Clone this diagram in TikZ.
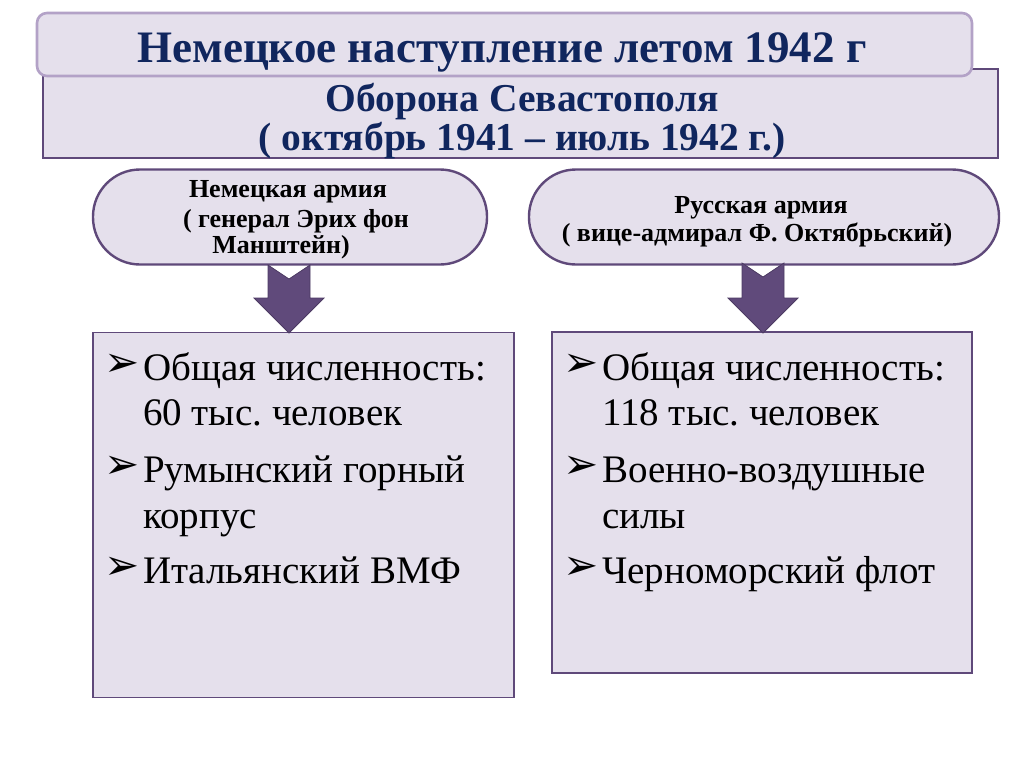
\documentclass[tikz,border=0pt]{standalone}
\usepackage{fontspec}
\setmainfont{Liberation Serif}
\newfontfamily\symfont{DejaVu Sans}
\frenchspacing
\definecolor{lav}{HTML}{E5E0EC}
\definecolor{dpurple}{HTML}{5F497A}
\definecolor{lpurple}{HTML}{B3A2C7}
\definecolor{navy}{HTML}{10265E}
\definecolor{arrowfill}{HTML}{604A7B}
\tikzset{
  backbox/.style={draw=dpurple, line width=2.6pt, fill=lav, inner sep=0pt},
  topbox/.style={draw=lpurple, line width=2.6pt, fill=lav, rounded corners=10pt, inner sep=0pt},
  army/.style={draw=dpurple, line width=2.4pt, fill=lav, rounded corners=47pt, inner sep=0pt},
  listbox/.style={draw=dpurple, line width=1.8pt, fill=lav, inner sep=0pt},
  blockarrow/.style={fill=arrowfill, draw=dpurple!80!black, line width=0.8pt, line join=miter},
  titletext/.style={font=\rmfamily\fontsize{45}{50}\selectfont\bfseries, text=navy, anchor=base, inner sep=0pt},
  subtext/.style={font=\rmfamily\fontsize{39.5}{44}\selectfont\bfseries, text=navy, anchor=base, inner sep=0pt},
  armytext/.style={font=\rmfamily\fontsize{26}{30}\selectfont\bfseries, anchor=base, inner sep=0pt},
  itemtext/.style={font=\rmfamily\fontsize{39}{44}\selectfont, anchor=base west, inner sep=0pt},
  bullet/.style={font=\symfont\fontsize{42}{46}\selectfont, anchor=base west, inner sep=0pt}
}
\begin{document}
\begin{tikzpicture}[x=1pt,y=-1pt]
\useasboundingbox (0,0) rectangle (1024,768);
% header boxes
\node[backbox, minimum width=955pt, minimum height=89pt] (back) at (520.5,113.5) {};
\node[topbox, minimum width=935pt, minimum height=63pt] (top) at (504.5,44.5) {};
\node[titletext] (title) at (502,63) {Немецкое наступление летом 1942 г};
\node[subtext] (sub1) at (522,111) {Оборона Севастополя};
\node[subtext] (sub2) at (522,150) {( октябрь 1941 – июль 1942 г.)};
% army ovals
\node[army, minimum width=394pt, minimum height=95pt] (ger) at (290,217) {};
\node[army, minimum width=470pt, minimum height=95pt] (rus) at (764,217) {};
\node[armytext] (g1) at (288,197) {Немецкая армия};
\node[armytext] (g2) at (296,227) {( генерал Эрих фон};
\node[armytext] (g3) at (281,253) {Манштейн)};
\node[armytext] (r1) at (761,213) {Русская армия};
\node[armytext] (r2) at (757,241) {( вице-адмирал Ф. Октябрьский)};
% list boxes
\node[listbox, minimum width=421pt, minimum height=365pt] (lbox) at (303.5,515) {};
\node[listbox, minimum width=420pt, minimum height=341pt] (rbox) at (762,502.5) {};
% arrows
\path[blockarrow] (268,265) -- (289,279) -- (310,265) -- (310,298) -- (324,298) -- (289,333) -- (254,298) -- (268,298) -- cycle;
\path[blockarrow] (742,263) -- (763,277) -- (784,263) -- (784,298) -- (798,298) -- (763,333) -- (728,298) -- (742,298) -- cycle;
% left list
\node[bullet] (lb1) at (104,376) {➢};
\node[itemtext] (l1) at (143,380) {Общая численность:};
\node[itemtext] (l2) at (143,425) {60 тыс. человек};
\node[bullet] (lb2) at (104,478) {➢};
\node[itemtext] (l3) at (143,482) {Румынский горный};
\node[itemtext] (l4) at (143,528) {корпус};
\node[bullet] (lb3) at (104,579) {➢};
\node[itemtext] (l5) at (143,583) {Итальянский ВМФ};
% right list
\node[bullet] (rb1) at (563,376) {➢};
\node[itemtext] (r1a) at (602,380) {Общая численность:};
\node[itemtext] (r2a) at (602,425) {118 тыс. человек};
\node[bullet] (rb2) at (563,478) {➢};
\node[itemtext] (r3a) at (602,482) {Военно-воздушные};
\node[itemtext] (r4a) at (602,528) {силы};
\node[bullet] (rb3) at (563,579) {➢};
\node[itemtext] (r5a) at (602,583) {Черноморский флот};
\end{tikzpicture}
\end{document}
